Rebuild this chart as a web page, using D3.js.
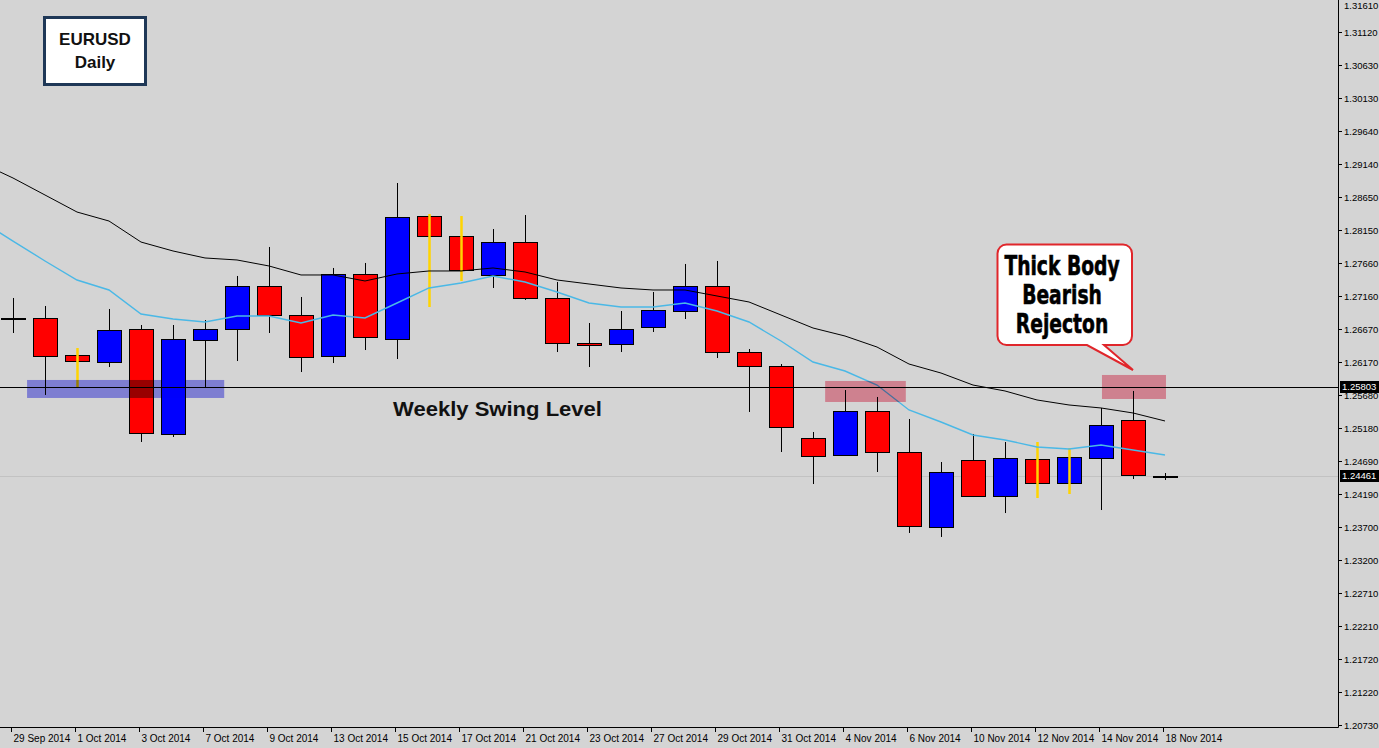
<!DOCTYPE html>
<html>
<head>
<meta charset="utf-8">
<script src="https://cdn.jsdelivr.net/npm/d3@7/dist/d3.min.js"></script>
<style>
  html, body { margin: 0; padding: 0; background: #d4d4d4; }
  svg { display: block; }
</style>
</head>
<body>
<svg id="chart" width="1379" height="748"></svg>
<script>
// ---------------- DATA ----------------
const dates = ["2014-09-29","2014-09-30","2014-10-01","2014-10-02","2014-10-03","2014-10-06","2014-10-07","2014-10-08","2014-10-09","2014-10-10",
  "2014-10-13","2014-10-14","2014-10-15","2014-10-16","2014-10-17","2014-10-20","2014-10-21","2014-10-22","2014-10-23","2014-10-24",
  "2014-10-27","2014-10-28","2014-10-29","2014-10-30","2014-10-31","2014-11-03","2014-11-04","2014-11-05","2014-11-06","2014-11-07",
  "2014-11-10","2014-11-11","2014-11-12","2014-11-13","2014-11-14","2014-11-17","2014-11-18"];
const opens  = [1.26817,1.26832,1.26277,1.26172,1.26667,1.25093,1.26502,1.26667,1.27312,1.26877,
  1.26262,1.27492,1.26517,1.28361,1.28061,1.27477,1.27971,1.27132,1.26457,1.26442,
  1.26697,1.26937,1.27312,1.26322,1.26112,1.25033,1.24778,1.25438,1.24823,1.23698,
  1.24703,1.24163,1.24718,1.24358,1.24733,1.25303,1.24448];
const highs  = [1.27132,1.27012,1.26382,1.26967,1.26727,1.26727,1.26802,1.27462,1.27897,1.27147,
  1.27582,1.27657,1.28856,1.28391,1.28361,1.28166,1.28376,1.27372,1.26757,1.26937,
  1.27222,1.27642,1.27687,1.26367,1.26142,1.25123,1.25752,1.25648,1.25318,1.24673,
  1.25093,1.24973,1.24973,1.24883,1.25483,1.25738,1.24508];
const lows   = [1.26607,1.25678,1.25782,1.26097,1.24973,1.25048,1.25782,1.26187,1.26607,1.26022,
  1.26157,1.26352,1.26217,1.26997,1.27387,1.27282,1.27102,1.26322,1.26097,1.26322,
  1.26622,1.26817,1.26232,1.25423,1.24823,1.24343,1.24763,1.24523,1.23609,1.23549,
  1.24148,1.23908,1.24133,1.24193,1.23953,1.24418,1.24403];
const closes = [1.26832,1.26262,1.26187,1.26652,1.25108,1.26517,1.26667,1.27312,1.26877,1.26247,
  1.27492,1.26547,1.28346,1.28061,1.27552,1.27971,1.27132,1.26457,1.26427,1.26667,
  1.26952,1.27312,1.26322,1.26112,1.25198,1.24763,1.25438,1.24823,1.23713,1.24523,
  1.24163,1.24733,1.24358,1.24748,1.25228,1.24478,1.24461];
// bars whose wick is highlighted in yellow on the original
const highlightedBars = ["2014-10-01","2014-10-16","2014-10-17","2014-11-12","2014-11-13"];
// moving averages (first value belongs to the trading day before 29 Sep)
const maSlow = [1.29156,1.28931,1.28676,1.28421,1.28286,1.27971,1.27837,1.27732,1.27702,1.27612,1.27477,
  1.27477,1.27387,1.27492,1.27537,1.27537,1.27582,1.27522,1.27402,1.27342,1.27282,
  1.27252,1.27252,1.27162,1.27072,1.26877,1.26682,1.26562,1.26397,1.26142,1.26007,
  1.25827,1.25738,1.25603,1.25528,1.25483,1.25408,1.25288];
const maFast = [1.28286,1.27986,1.27687,1.27402,1.27252,1.26892,1.26817,1.26772,1.26862,1.26862,1.26757,
  1.26877,1.26832,1.27057,1.27282,1.27357,1.27462,1.27372,1.27222,1.27057,1.26997,
  1.26997,1.27057,1.26937,1.26772,1.26487,1.26172,1.26037,1.25827,1.25453,1.25273,
  1.25078,1.25003,1.24898,1.24868,1.24928,1.24853,1.24778];
const yTickLabels = ["1.31610","1.31120","1.30630","1.30130","1.29640","1.29140","1.28650","1.28150","1.27660","1.27160","1.26670","1.26170",
  "1.25680","1.25180","1.24690","1.24190","1.23700","1.23200","1.22710","1.22210","1.21720","1.21220","1.20730"];
const swingLevel = 1.25803;
const currentPrice = 1.24461;
// annotation zones: [from bar position, to bar position, low price, high price]
const supportZone = [0.44, 6.6, 1.25633, 1.25903];
const rejectZones = [[25.38, 27.9, 1.25573, 1.25888], [34.03, 36.03, 1.25618, 1.25978]];
const titleLines = ["EURUSD","Daily"];
const calloutLines = ["Thick Body","Bearish","Rejecton"];
const levelLabel = "Weekly Swing Level";

// ---------------- CHART ----------------
const W = 1379, H = 748, plotRight = 1338, plotBottom = 727;
const svg = d3.select("#chart");
const parse = d3.timeParse("%Y-%m-%d");
const fmt = d3.timeFormat("%-d %b %Y");

const x = d3.scaleLinear().domain([0, dates.length - 1]).range([13, 1165]);
const y = d3.scaleLinear().domain([1.20730, 1.31120]).range([725, 32]);
const bodyW = 24;
const BG = "#d4d4d4";

svg.append("rect").attr("width", W).attr("height", H).attr("fill", BG);

svg.append("defs").append("clipPath").attr("id", "plotclip")
  .append("rect").attr("x", 0).attr("y", 0).attr("width", plotRight).attr("height", plotBottom);
const plot = svg.append("g").attr("clip-path", "url(#plotclip)");
plot.append("rect").attr("width", plotRight).attr("height", plotBottom).attr("fill", BG);

// current price line
plot.append("line").attr("x1", 0).attr("x2", plotRight)
  .attr("y1", Math.round(y(currentPrice)) + 0.5).attr("y2", Math.round(y(currentPrice)) + 0.5)
  .attr("stroke", "#c2c2c2").attr("stroke-width", 1);

const bars = dates.map((d, i) => ({d, i, o: opens[i], h: highs[i], l: lows[i], c: closes[i]}));
const isHi = b => highlightedBars.includes(b.d);

// wicks
plot.selectAll("line.wick").data(bars.filter(b => !isHi(b))).join("line")
  .attr("class", "wick")
  .attr("x1", b => Math.round(x(b.i)) + 0.5).attr("x2", b => Math.round(x(b.i)) + 0.5)
  .attr("y1", b => y(b.h)).attr("y2", b => y(b.l))
  .attr("stroke", "#000").attr("stroke-width", 1);

// bodies
plot.selectAll("rect.body").data(bars).join("rect")
  .attr("class", "body")
  .attr("x", b => Math.round(x(b.i) - bodyW / 2) + 0.5)
  .attr("y", b => Math.round(y(Math.max(b.o, b.c))) + 0.5)
  .attr("width", bodyW)
  .attr("height", b => Math.max(1, Math.round(y(Math.min(b.o, b.c)) - y(Math.max(b.o, b.c)))))
  .attr("fill", b => Math.abs(b.c - b.o) < 0.0002 ? (b.c >= b.o ? "#00008b" : "#cc0000") : (b.c >= b.o ? "#0000ff" : "#ff0000"))
  .attr("stroke", "#000").attr("stroke-width", 1);

// yellow highlighted wicks, drawn over bodies
plot.selectAll("line.hwick").data(bars.filter(isHi)).join("line")
  .attr("class", "hwick")
  .attr("x1", b => Math.round(x(b.i)) + 0.5).attr("x2", b => Math.round(x(b.i)) + 0.5)
  .attr("y1", b => y(b.h)).attr("y2", b => y(b.l))
  .attr("stroke", "#ffd400").attr("stroke-width", 2.5);

// moving averages
const maLine = d3.line().x((v, k) => x(k - 1)).y(v => y(v));
plot.append("path").attr("d", maLine(maSlow)).attr("fill", "none").attr("stroke", "#000").attr("stroke-width", 1);
plot.append("path").attr("d", maLine(maFast)).attr("fill", "none").attr("stroke", "#4ab8e6").attr("stroke-width", 1.4);

// swing level line
plot.append("line").attr("x1", 0).attr("x2", plotRight)
  .attr("y1", Math.round(y(swingLevel)) + 0.5).attr("y2", Math.round(y(swingLevel)) + 0.5)
  .attr("stroke", "#000").attr("stroke-width", 1);

// zones (multiply blend)
function zone(z, fill) {
  const x0 = x(z[0]), x1 = x(z[1]);
  plot.append("rect").attr("x", x0).attr("y", y(z[3])).attr("width", x1 - x0)
    .attr("height", y(z[2]) - y(z[3])).attr("fill", fill).style("mix-blend-mode", "multiply");
}
zone(supportZone, "rgb(152,152,252)");
rejectZones.forEach(z => zone(z, "rgb(248,155,172)"));

// axes lines
svg.append("line").attr("x1", plotRight + 0.5).attr("x2", plotRight + 0.5).attr("y1", 0).attr("y2", plotBottom + 0.5)
  .attr("stroke", "#000");
svg.append("line").attr("x1", 0).attr("x2", plotRight + 0.5).attr("y1", plotBottom + 0.5).attr("y2", plotBottom + 0.5)
  .attr("stroke", "#000");

// y ticks
const yt = svg.append("g").attr("font-family", "Liberation Sans, Arial, sans-serif").attr("font-size", "9.5px").attr("fill", "#000");
yTickLabels.forEach(t => {
  const yy = Math.round(y(+t)) + 0.5;
  yt.append("line").attr("x1", plotRight).attr("x2", plotRight + 4).attr("y1", yy).attr("y2", yy).attr("stroke", "#000");
  yt.append("text").attr("x", plotRight + 6).attr("y", Math.max(yy, 6)).attr("dy", "0.35em").text(t);
});

// x ticks
const xt = svg.append("g").attr("font-family", "Liberation Sans, Arial, sans-serif").attr("font-size", "10px").attr("fill", "#000");
bars.filter(b => b.i % 2 === 0).forEach(b => {
  const xx = Math.round(x(b.i)) - 1.5;
  xt.append("line").attr("x1", xx).attr("x2", xx).attr("y1", plotBottom).attr("y2", plotBottom + 5).attr("stroke", "#000");
  xt.append("text").attr("x", xx + 2).attr("y", 742).text(fmt(parse(b.d)));
});

// price labels on axis
[swingLevel, currentPrice].forEach(p => {
  const yy = Math.round(y(p));
  svg.append("rect").attr("x", plotRight + 2).attr("y", yy - 6).attr("width", W - plotRight - 2).attr("height", 12).attr("fill", "#000");
  svg.append("text").attr("x", plotRight + 4).attr("y", yy).attr("dy", "0.35em")
    .attr("font-family", "Liberation Sans, Arial, sans-serif").attr("font-size", "9.5px").attr("fill", "#fff").text(p.toFixed(5));
});

// title box
svg.append("rect").attr("x", 44.5).attr("y", 17.5).attr("width", 101).attr("height", 67)
  .attr("fill", "#fff").attr("stroke", "#1f3857").attr("stroke-width", 3);
titleLines.forEach((t, k) => {
  svg.append("text").attr("x", 95).attr("y", 45 + k * 23).attr("text-anchor", "middle")
    .attr("font-family", "Liberation Sans, Arial, sans-serif").attr("font-weight", "bold").attr("font-size", "17px")
    .attr("fill", "#111").text(t);
});

// level label
svg.append("text").attr("x", 393).attr("y", 416).attr("font-family", "Liberation Sans, Arial, sans-serif")
  .attr("font-weight", "bold").attr("font-size", "20px").attr("fill", "#111")
  .attr("textLength", 209).attr("lengthAdjust", "spacingAndGlyphs").text(levelLabel);

// callout
const cx0 = 997.5, cy0 = 244.5, cx1 = 1132, cy1 = 345, r = 9;
const tipX = x(35), tipY = 370;
const cp = d3.path();
cp.moveTo(cx0 + r, cy0);
cp.lineTo(cx1 - r, cy0); cp.arcTo(cx1, cy0, cx1, cy0 + r, r);
cp.lineTo(cx1, cy1 - r); cp.arcTo(cx1, cy1, cx1 - r, cy1, r);
cp.lineTo(1104, cy1); cp.lineTo(tipX, tipY); cp.lineTo(1087, cy1);
cp.lineTo(cx0 + r, cy1); cp.arcTo(cx0, cy1, cx0, cy1 - r, r);
cp.lineTo(cx0, cy0 + r); cp.arcTo(cx0, cy0, cx0 + r, cy0, r);
cp.closePath();
svg.append("path").attr("d", cp.toString()).attr("fill", "#fff").attr("stroke", "#e0262b").attr("stroke-width", 2);
const ctext = svg.append("g").attr("transform", "translate(1062,0) scale(0.72,1)");
calloutLines.forEach((t, k) => {
  ctext.append("text").attr("x", 0).attr("y", 275 + k * 29).attr("text-anchor", "middle")
    .attr("font-family", "DejaVu Sans, Liberation Sans, sans-serif")
    .attr("font-weight", "bold").attr("font-size", "26px").attr("fill", "#000")
    .attr("stroke", "#000").attr("stroke-width", 0.6).text(t);
});
</script>
</body>
</html>
